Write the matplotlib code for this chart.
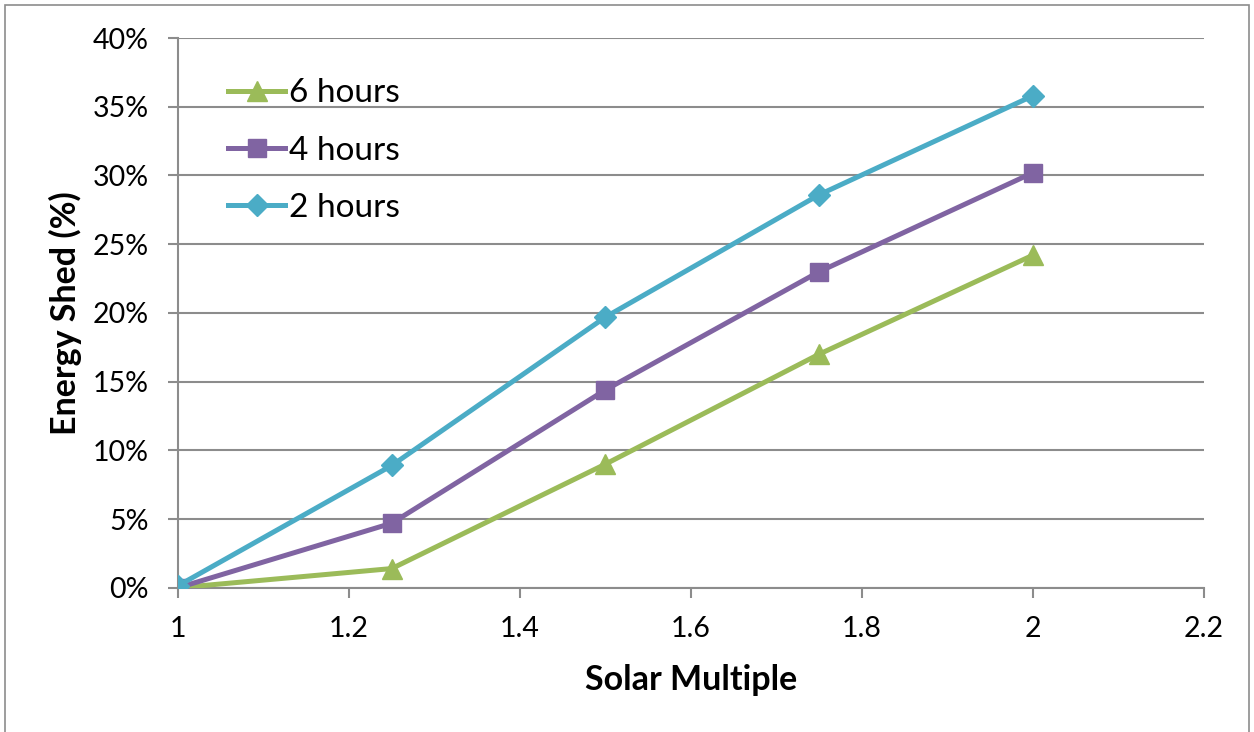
import matplotlib
matplotlib.use("Agg")
import matplotlib.pyplot as plt
from matplotlib.ticker import FuncFormatter, MultipleLocator
from matplotlib.patches import Rectangle

# solar multiple vs. fraction of energy shed, per storage duration
solar_multiple = [1.0, 1.25, 1.5, 1.75, 2.0]
shed_6h = [0.0, 1.4, 9.0, 17.0, 24.2]
shed_4h = [0.0, 4.7, 14.4, 23.0, 30.2]
shed_2h = [0.15, 8.9, 19.7, 28.6, 35.8]

plt.rcParams['font.family'] = ['Lato', 'DejaVu Sans']

fig = plt.figure(figsize=(12.54, 7.32), dpi=100)
ax = fig.add_axes([0.142, 0.197, 0.818, 0.751])

grid_col = '#8c8c8c'

ax.plot(solar_multiple, shed_6h, color='#9BBB59', lw=3.6, marker='^', ms=14,
        label='6 hours', zorder=3)
ax.plot(solar_multiple, shed_4h, color='#8064A2', lw=3.6, marker='s', ms=13,
        label='4 hours', zorder=4)
ax.plot(solar_multiple, shed_2h, color='#4BACC6', lw=3.6, marker='D', ms=11,
        label='2 hours', zorder=5)

ax.set_xlim(1, 2.2)
ax.set_ylim(0, 40)
ax.xaxis.set_major_locator(MultipleLocator(0.2))
ax.yaxis.set_major_locator(MultipleLocator(5))
ax.xaxis.set_major_formatter(FuncFormatter(lambda v, p: f'{v:g}'))
ax.yaxis.set_major_formatter(FuncFormatter(lambda v, p: f'{v:.0f}%'))

ax.grid(axis='y', color=grid_col, lw=1.5)
ax.set_axisbelow(True)
for s in ['top', 'right']:
    ax.spines[s].set_visible(False)
for s in ['left', 'bottom']:
    ax.spines[s].set_color(grid_col)
    ax.spines[s].set_linewidth(1.5)
ax.tick_params(axis='both', direction='out', length=7, width=1.5,
               color=grid_col, labelsize=20.5)
ax.tick_params(axis='y', pad=14)
ax.tick_params(axis='x', pad=13)

ax.set_xlabel('Solar Multiple', fontsize=24.5, fontweight='bold', labelpad=16)
ax.set_ylabel('Energy Shed (%)', fontsize=24.5, fontweight='bold', labelpad=8)

ax.legend(loc='upper left', bbox_to_anchor=(0.036, 0.951), borderaxespad=0,
          frameon=False, fontsize=24, handlelength=1.7, handletextpad=0.12,
          labelspacing=0.82)

fig.patches.append(Rectangle((0.004, -0.01), 0.992, 1.003, transform=fig.transFigure,
                             fill=False, edgecolor='#8c8c8c', lw=1.2))

fig.savefig('out.png', dpi=100)
